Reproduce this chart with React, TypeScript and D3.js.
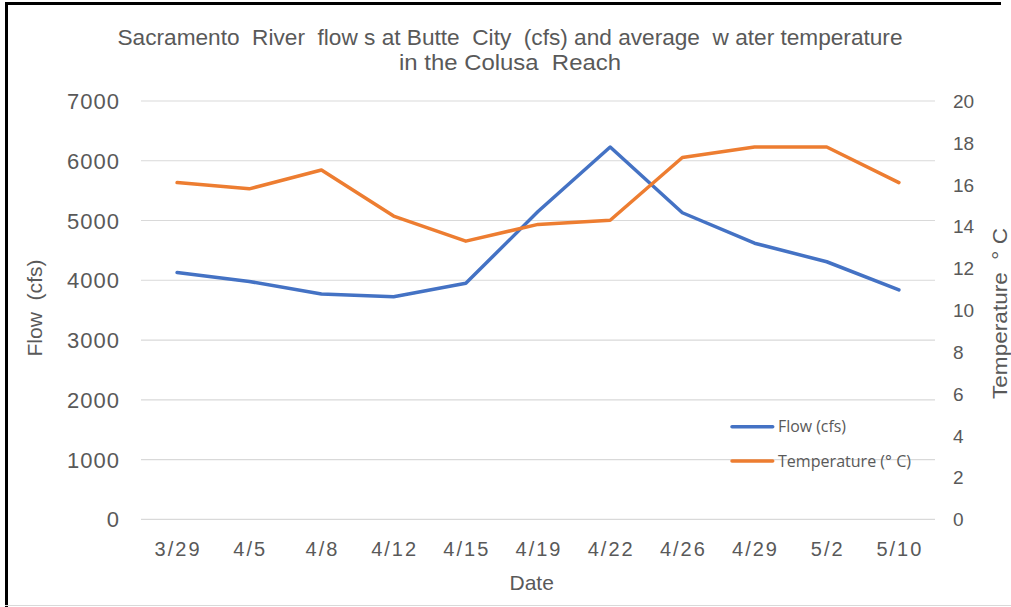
import React from "react";
import * as d3 from "d3";

const dates = ["3/29", "4/5", "4/8", "4/12", "4/15", "4/19", "4/22", "4/26", "4/29", "5/2", "5/10"];
const flowCfs = [4130, 3980, 3770, 3725, 3950, 5150, 6230, 5130, 4620, 4310, 3840];
const tempC = [16.1, 15.8, 16.7, 14.5, 13.3, 14.1, 14.3, 17.3, 17.8, 17.8, 16.1];
const flowTicks = [0, 1000, 2000, 3000, 4000, 5000, 6000, 7000];
const tempTicks = [0, 2, 4, 6, 8, 10, 12, 14, 16, 18, 20];
const titleLines = [
  "Sacramento  River  flow s at Butte  City  (cfs) and average  w ater temperature",
  "in the Colusa  Reach",
];
const seriesNames = ["Flow (cfs)", "Temperature (° C)"];

const W = 1011;
const H = 607;
const left = 141;
const right = 935;
const top = 101;
const bottom = 519.3;
const BLUE = "#4472C4";
const ORANGE = "#ED7D31";
const GRID = "#D9D9D9";
const TEXT = "#595959";
const FONT = "'Liberation Sans', Arial, sans-serif";
const LEG_FONT = "'Open Sans', 'Noto Sans', sans-serif";

export default function App() {
  const x = d3.scaleBand<string>().domain(dates).range([left, right]).paddingInner(0).paddingOuter(0);
  const cx = (d: string) => (x(d) as number) + x.bandwidth() / 2;
  const yFlow = d3.scaleLinear().domain([0, 7000]).range([bottom, top]);
  const yTemp = d3.scaleLinear().domain([0, 20]).range([bottom, top]);

  const flowLine = d3
    .line<number>()
    .x((_, i) => cx(dates[i]))
    .y((v) => yFlow(v));
  const tempLine = d3
    .line<number>()
    .x((_, i) => cx(dates[i]))
    .y((v) => yTemp(v));

  return (
    <svg
      width={W}
      height={H}
      style={{ position: "absolute", left: 0, top: 0, background: "#fff" }}
      xmlns="http://www.w3.org/2000/svg"
    >
      <rect x={0} y={0} width={W} height={H} fill="#fff" />
      {/* frame */}
      <line x1={5} y1={3.5} x2={1001} y2={3.5} stroke="#000" strokeWidth={3} />
      <line x1={6.5} y1={2} x2={6.5} y2={H} stroke="#000" strokeWidth={3} />
      <line x1={5} y1={605.5} x2={W} y2={605.5} stroke={GRID} strokeWidth={1} />

      {/* title */}
      <text x={510} y={45} textAnchor="middle" fontFamily={FONT} fontSize={22} fill={TEXT}
        textLength={785} lengthAdjust="spacingAndGlyphs" style={{ whiteSpace: "pre" }}>
        {titleLines[0]}
      </text>
      <text x={510} y={70} textAnchor="middle" fontFamily={FONT} fontSize={22} fill={TEXT}
        textLength={222} lengthAdjust="spacingAndGlyphs" style={{ whiteSpace: "pre" }}>
        {titleLines[1]}
      </text>

      {/* gridlines */}
      {flowTicks.map((t) => (
        <line key={"g" + t} x1={left} x2={right} y1={yFlow(t)} y2={yFlow(t)} stroke={GRID} strokeWidth={1.2} />
      ))}

      {/* left tick labels */}
      {flowTicks.map((t) => (
        <text key={"l" + t} x={120} y={yFlow(t) + 8} textAnchor="end" fontFamily={FONT} fontSize={22}
          letterSpacing={1} fill={TEXT}>
          {t}
        </text>
      ))}

      {/* right tick labels */}
      {tempTicks.map((t) => (
        <text key={"r" + t} x={953} y={yTemp(t) + 7} textAnchor="start" fontFamily={FONT} fontSize={19} fill={TEXT}>
          {t}
        </text>
      ))}

      {/* x labels */}
      {dates.map((d) => (
        <text key={"x" + d} x={cx(d) + 1} y={556} textAnchor="middle" fontFamily={FONT} fontSize={20}
          letterSpacing={2} fill={TEXT}>
          {d}
        </text>
      ))}

      {/* axis titles */}
      <text x={531.7} y={590} textAnchor="middle" fontFamily={FONT} fontSize={21} fill={TEXT}>
        Date
      </text>
      <text transform="translate(42,308) rotate(-90)" textAnchor="middle" fontFamily={FONT} fontSize={21}
        fill={TEXT} textLength={97} lengthAdjust="spacingAndGlyphs" style={{ whiteSpace: "pre" }}>
        Flow  (cfs)
      </text>
      <text transform="translate(1007,313.5) rotate(-90)" textAnchor="middle" fontFamily={FONT} fontSize={21}
        fill={TEXT} textLength={171} lengthAdjust="spacingAndGlyphs" style={{ whiteSpace: "pre" }}>
        Temperature  ° C
      </text>

      {/* series */}
      <path d={flowLine(flowCfs) || ""} fill="none" stroke={BLUE} strokeWidth={3.5} strokeLinejoin="round" strokeLinecap="round" />
      <path d={tempLine(tempC) || ""} fill="none" stroke={ORANGE} strokeWidth={3.5} strokeLinejoin="round" strokeLinecap="round" />

      {/* legend */}
      <line x1={732} x2={772.7} y1={426.7} y2={426.7} stroke={BLUE} strokeWidth={3.5} strokeLinecap="round" />
      <text x={778} y={432.2} fontFamily={LEG_FONT} fontSize={15.5} fill={TEXT}
        textLength={68} lengthAdjust="spacingAndGlyphs">
        {seriesNames[0]}
      </text>
      <line x1={732} x2={772.7} y1={461} y2={461} stroke={ORANGE} strokeWidth={3.5} strokeLinecap="round" />
      <text x={778} y={466.5} fontFamily={LEG_FONT} fontSize={15.5} fill={TEXT}
        textLength={133} lengthAdjust="spacingAndGlyphs">
        {seriesNames[1]}
      </text>
    </svg>
  );
}
